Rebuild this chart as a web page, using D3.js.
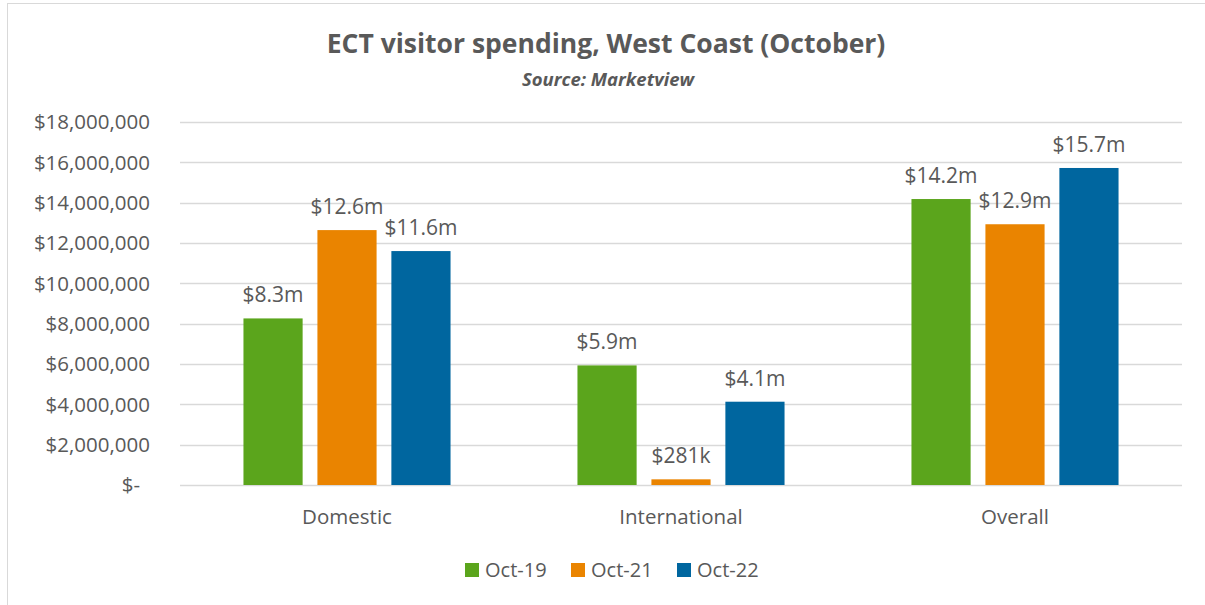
<!DOCTYPE html>
<html><head><meta charset="utf-8">
<script src="https://cdn.jsdelivr.net/npm/d3@7"></script>
<style>
html,body{margin:0;padding:0;background:#fff;}
svg text{font-family:"Open Sans","Liberation Sans",sans-serif;fill:#595959;}
</style></head>
<body>
<svg id="chart" width="1205" height="605"></svg>
<script>
const categories = ["Domestic", "International", "Overall"];
const seriesNames = ["Oct-19", "Oct-21", "Oct-22"];
const oct19 = [8260000, 5930000, 14180000];
const oct21 = [12640000, 281000, 12930000];
const oct22 = [11600000, 4130000, 15720000];
const labels19 = ["$8.3m", "$5.9m", "$14.2m"];
const labels21 = ["$12.6m", "$281k", "$12.9m"];
const labels22 = ["$11.6m", "$4.1m", "$15.7m"];
const yTicks = [0, 2000000, 4000000, 6000000, 8000000, 10000000, 12000000, 14000000, 16000000, 18000000];
const colors = ["#5BA51C", "#EA8400", "#00669F"];

const seriesValues = [oct19, oct21, oct22];
const seriesLabels = [labels19, labels21, labels22];

const svg = d3.select("#chart");
const W = 1205, H = 605;
const m = {left: 180, right: 1182, top: 122, bottom: 485};

// outer border
svg.append("rect").attr("x", 7.5).attr("y", 3.5).attr("width", W).attr("height", H)
  .attr("fill", "none").attr("stroke", "#D9D9D9").attr("stroke-width", 1);

const y = d3.scaleLinear().domain([0, 18000000]).range([m.bottom, m.top]);
const x0 = d3.scaleBand().domain(categories).range([m.left, m.right]).padding(0);
const groupW = x0.bandwidth() * 0.62;
const x1 = d3.scaleBand().domain(seriesNames).range([0, groupW]).paddingInner(0.2);

// gridlines
svg.append("g").selectAll("line").data(yTicks).join("line")
  .attr("x1", m.left).attr("x2", m.right)
  .attr("y1", d => Math.round(y(d)) + 0.5).attr("y2", d => Math.round(y(d)) + 0.5)
  .attr("stroke", "#D9D9D9").attr("stroke-width", 1.5);

// y axis labels
const fmt = d => d === 0 ? "$-" : "$" + d3.format(",")(d);
svg.append("g").selectAll("text").data(yTicks).join("text")
  .attr("x", d => d === 0 ? 140 : 150).attr("y", d => y(d)).attr("dy", "0.35em")
  .attr("text-anchor", "end").attr("font-size", 20.5).text(fmt);

// bars
seriesNames.forEach((s, si) => {
  const g = svg.append("g");
  g.selectAll("rect").data(categories).join("rect")
    .attr("x", c => x0(c) + (x0.bandwidth() - groupW) / 2 + x1(s))
    .attr("y", (c, i) => y(seriesValues[si][i]))
    .attr("width", x1.bandwidth())
    .attr("height", (c, i) => y(0) - y(seriesValues[si][i]))
    .attr("fill", colors[si]);
  g.selectAll("text").data(categories).join("text")
    .attr("x", c => x0(c) + (x0.bandwidth() - groupW) / 2 + x1(s) + x1.bandwidth() / 2)
    .attr("y", (c, i) => y(seriesValues[si][i]) - 16)
    .attr("text-anchor", "middle").attr("font-size", 21)
    .text((c, i) => seriesLabels[si][i]);
});

// x axis labels
svg.append("g").selectAll("text").data(categories).join("text")
  .attr("x", c => x0(c) + x0.bandwidth() / 2).attr("y", 524)
  .attr("text-anchor", "middle").attr("font-size", 20.5).text(c => c);

// title
svg.append("text").attr("x", 606).attr("y", 53).attr("text-anchor", "middle")
  .attr("font-size", 26.5).attr("font-weight", "bold").text("ECT visitor spending, West Coast (October)");
svg.append("text").attr("x", 608).attr("y", 86).attr("text-anchor", "middle")
  .attr("font-size", 18.5).attr("font-weight", "bold").attr("font-style", "italic").text("Source: Marketview");

// legend
const legX = [465, 571, 677];
const lg = svg.append("g");
seriesNames.forEach((s, i) => {
  lg.append("rect").attr("x", legX[i]).attr("y", 563).attr("width", 14).attr("height", 14).attr("fill", colors[i]);
  lg.append("text").attr("x", legX[i] + 20).attr("y", 570).attr("dy", "0.35em").attr("font-size", 20).text(s);
});
</script>
</body></html>
